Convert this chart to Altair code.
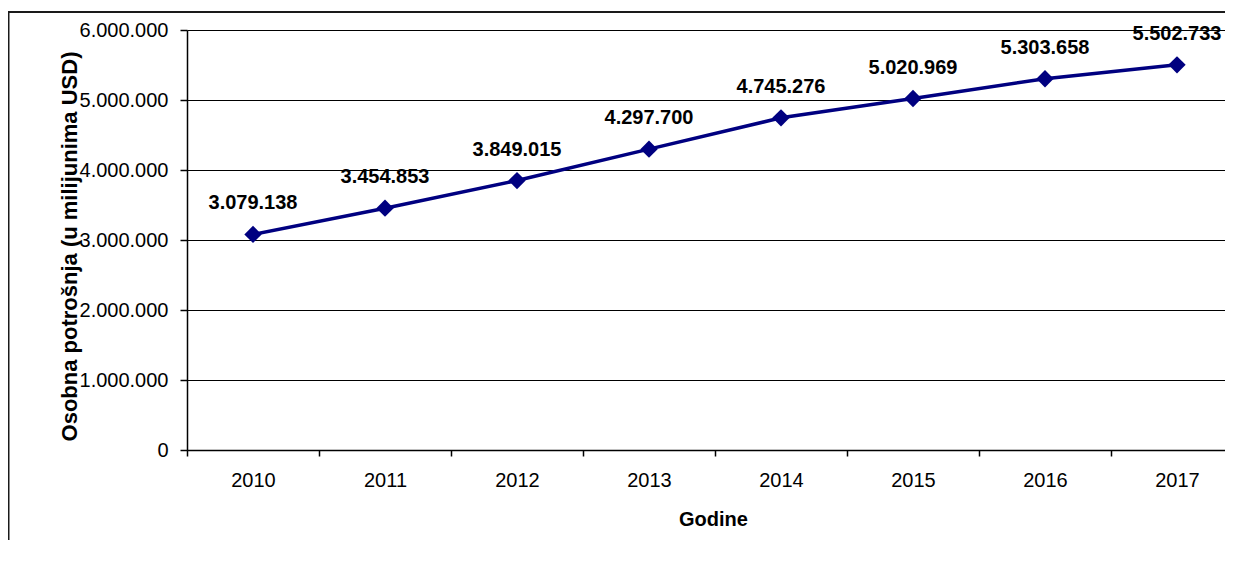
import altair as alt
import pandas as pd

years = ["2010", "2011", "2012", "2013", "2014", "2015", "2016", "2017"]
values = [3079138, 3454853, 3849015, 4297700, 4745276, 5020969, 5303658, 5502733]
y_ticks = [0, 1000000, 2000000, 3000000, 4000000, 5000000, 6000000]

labels = [f"{v:,}".replace(",", ".") for v in values]
df = pd.DataFrame({"idx": list(range(len(years))), "year": years,
                   "value": values, "label": labels})

FONT = "Liberation Sans"
W, H = 1038, 420
band = 132.0
x_dom = [-0.5, -0.5 + W / band]

year_js = "[" + ",".join(f"'{y}'" for y in years) + "]"
x_vals = []
for i in range(len(years)):
    x_vals.append(i - 0.5)
    x_vals.append(i)

x_enc = alt.X(
    "idx:Q",
    scale=alt.Scale(domain=x_dom, nice=False, zero=False),
    axis=alt.Axis(
        values=x_vals,
        labelExpr=f"datum.value % 1 === 0 ? {year_js}[datum.value] : ''",
        labelOverlap=False,
        labelFontSize=20,
        labelColor="#000",
        labelPadding=14,
        tickSize=6,
        tickColor="#000",
        tickWidth=1.5,
        tickOpacity={"condition": {"test": "datum.value % 1 !== 0", "value": 1}, "value": 0},
        domainColor="#000",
        domainWidth=1.5,
        grid=False,
        title="Godine",
        titleFontSize=20,
        titleFontWeight="bold",
        titleColor="#000",
        titleX=526,
        titleY=75,
        titleAlign="center",
        titleBaseline="alphabetic",
    ),
)

y_enc = alt.Y(
    "value:Q",
    scale=alt.Scale(domain=[0, 6000000], nice=False),
    axis=alt.Axis(
        values=y_ticks,
        labelExpr="replace(replace(format(datum.value, ','), ',', '.'), ',', '.')",
        labelFontSize=20,
        labelColor="#000",
        labelPadding=12,
        tickSize=7,
        tickColor="#000",
        tickWidth=1.5,
        domainColor="#000",
        domainWidth=1.5,
        grid=True,
        gridColor="#000",
        gridWidth=1,
        title="Osobna potrošnja (u milijunima USD)",
        titleFontSize=22,
        titleFontWeight="bold",
        titleColor="#000",
        titleAngle=270,
        titleX=-111,
        titleY=216,
        titleAlign="center",
        titleBaseline="alphabetic",
    ),
)

one = pd.DataFrame({"a": [0]})
frame_top = alt.Chart(one).mark_rect(color="#1a1a1a", opacity=1).encode(
    x=alt.value(-178), x2=alt.value(W),
    y=alt.value(-19), y2=alt.value(-17))
frame_left = alt.Chart(one).mark_rect(color="#1a1a1a", opacity=1).encode(
    x=alt.value(-179), x2=alt.value(-177.5),
    y=alt.value(-19), y2=alt.value(H + 200))

base = alt.Chart(df)
line = base.mark_line(color="#000080", strokeWidth=3.5).encode(x=x_enc, y=y_enc)
pts = base.mark_point(shape="diamond", filled=True, color="#000080",
                      size=300, opacity=1).encode(x="idx:Q", y="value:Q")
txt = base.mark_text(font=FONT, fontSize=20, fontWeight="bold", color="#000",
                     baseline="middle", dy=-31).encode(
    x="idx:Q", y="value:Q", text="label:N")

chart = alt.layer(line, frame_top, frame_left, pts, txt).properties(
    width=W, height=H,
    autosize=alt.AutoSizeParams(type="none"),
    padding={"left": 179, "top": 22, "right": 0, "bottom": 90},
).configure(font=FONT).configure_view(stroke=None)

chart.save("out.html", embed_options={"renderer": "svg", "actions": False})
